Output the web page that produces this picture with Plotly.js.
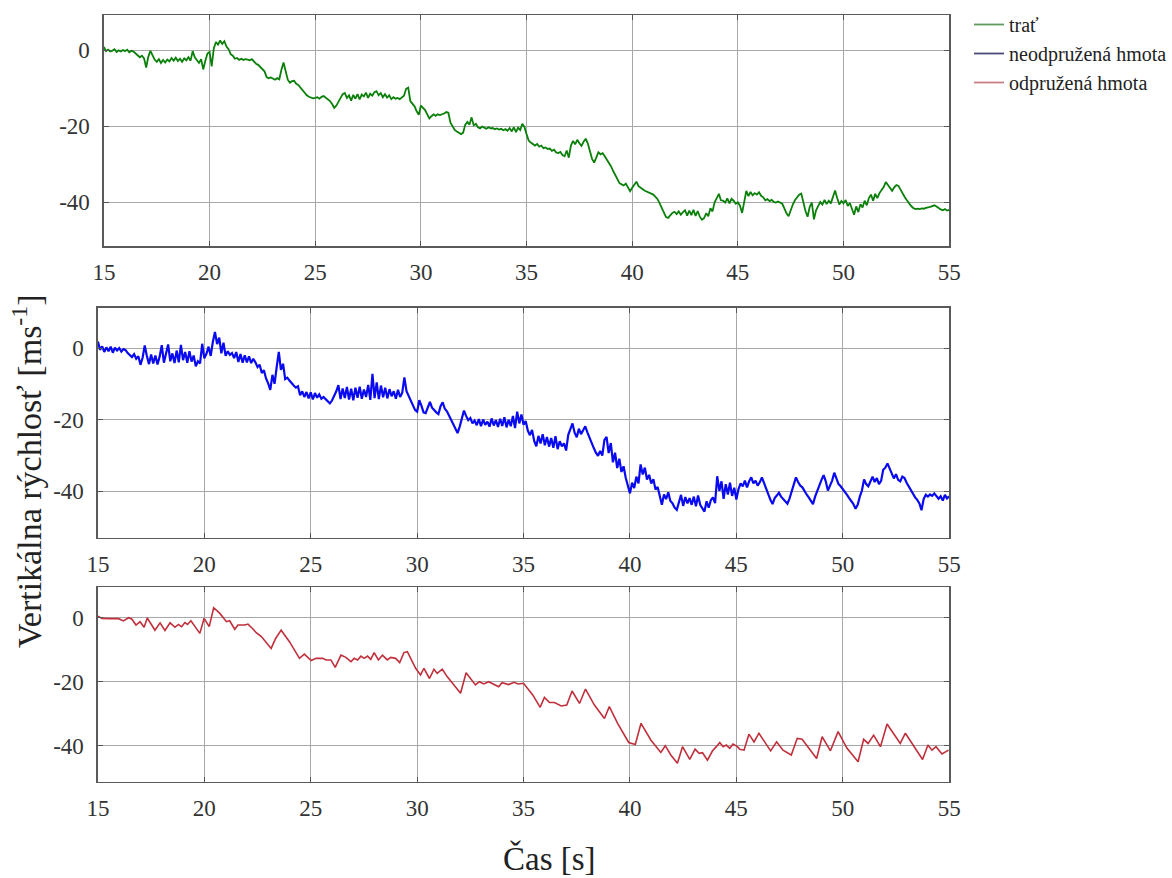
<!DOCTYPE html>
<html>
<head>
<meta charset="utf-8">
<script src="https://cdn.plot.ly/plotly-3.0.1.min.js"></script>
<style>html,body{margin:0;padding:0;background:#fff;}#chart{width:1172px;height:878px;}</style>
</head>
<body>
<div id="chart"></div>
<script>
// ---- data ----
const seriesNames = ["trať", "neodpružená hmota", "odpružená hmota"];
const xTickVals = [15, 20, 25, 30, 35, 40, 45, 50, 55];
const xTickText = ["15", "20", "25", "30", "35", "40", "45", "50", "55"];
const yTickVals = [0, -20, -40];
const yTickText = ["0", "-20", "-40"];
const tStart = 15;      // s, first sample of the dense traces
const tStep = 0.1;      // s, sample spacing of the dense traces

// trať (track) – vertical velocity, samples every 0.1 s from 15 s to 55 s
const trat = [
 0.8,-0.3,0.1,-0.4,-0.2,0.2,-0.5,-0.1,-0.4,0.0,
 -0.3,0.1,-0.6,-0.2,-0.4,-0.9,-1.6,-1.9,-1.5,-2.2,
 -4.6,-1.8,-0.2,-1.6,-2.5,-3.1,-2.4,-3.4,-2.6,-3.3,
 -2.5,-3.0,-2.1,-2.8,-2.0,-2.9,-2.3,-3.1,-2.2,-2.7,
 -1.9,-2.8,-0.3,-1.9,-2.6,-3.4,-2.4,-5.1,-2.8,-0.9,
 -0.5,-4.3,0.4,2.1,1.4,2.5,1.6,2.3,0.9,0.2,
 -1.1,-1.5,-2.3,-2.1,-2.6,-2.3,-2.6,-2.4,-2.5,-2.7,
 -2.4,-3.0,-3.6,-3.9,-4.4,-4.9,-5.6,-7.1,-7.4,-7.2,
 -7.6,-7.8,-7.4,-7.7,-5.2,-3.3,-5.5,-7.8,-8.6,-8.2,
 -8.1,-8.9,-9.2,-9.9,-10.8,-11.5,-11.9,-12.3,-12.5,-12.7,
 -12.6,-12.4,-12.8,-12.3,-12.1,-12.6,-13.0,-13.4,-14.2,-15.2,
 -14.6,-13.6,-12.9,-11.6,-11.3,-12.6,-11.9,-13.3,-11.8,-12.8,
 -11.6,-13.0,-11.7,-12.2,-11.2,-12.6,-11.5,-12.0,-11.1,-10.8,
 -11.9,-11.3,-12.4,-11.6,-12.5,-11.9,-12.9,-12.4,-12.8,-12.6,
 -12.9,-12.4,-12.0,-10.2,-9.9,-13.4,-14.0,-14.8,-16.1,-17.0,
 -14.6,-15.2,-15.8,-16.9,-18.0,-17.4,-16.9,-17.3,-16.9,-17.1,
 -17.0,-16.7,-16.3,-16.5,-19.1,-20.2,-21.0,-21.4,-21.8,-22.1,
 -21.7,-19.6,-18.9,-19.6,-17.7,-19.8,-19.4,-20.3,-20.6,-20.1,
 -20.4,-20.7,-20.3,-20.6,-20.5,-20.8,-20.6,-20.9,-20.7,-21.1,
 -20.8,-21.2,-20.5,-21.4,-20.3,-21.6,-20.4,-21.0,-19.4,-20.2,
 -22.1,-23.8,-24.3,-24.6,-25.1,-24.7,-25.4,-25.1,-25.8,-25.6,
 -26.0,-25.9,-26.5,-26.2,-26.9,-27.1,-26.8,-27.6,-27.9,-26.4,
 -28.3,-25.1,-23.9,-24.8,-23.6,-24.5,-25.2,-24.1,-23.3,-24.6,
 -26.5,-28.6,-29.6,-28.1,-26.9,-27.4,-27.1,-27.9,-28.8,-29.6,
 -30.6,-31.8,-33.0,-34.2,-35.0,-35.3,-35.6,-35.1,-36.2,-37.1,
 -36.2,-35.3,-34.6,-35.8,-36.3,-36.6,-37.0,-37.2,-37.5,-37.6,
 -38.0,-38.6,-39.2,-40.3,-41.5,-42.8,-43.9,-44.1,-43.3,-42.8,
 -42.5,-43.1,-42.4,-43.3,-42.6,-42.1,-43.5,-42.2,-43.4,-42.0,
 -43.6,-42.3,-43.8,-44.6,-44.2,-42.9,-43.7,-41.6,-42.4,-40.0,
 -38.9,-37.8,-39.5,-39.6,-40.1,-39.0,-40.3,-39.1,-39.6,-40.4,
 -40.0,-40.9,-42.8,-39.8,-37.0,-38.4,-37.3,-38.2,-37.6,-38.0,
 -37.4,-38.3,-38.7,-39.5,-39.2,-39.7,-39.4,-39.9,-40.1,-39.8,
 -40.2,-40.4,-41.6,-42.9,-43.7,-42.0,-40.6,-39.5,-38.6,-38.0,
 -37.7,-40.1,-42.3,-43.8,-41.2,-40.1,-44.5,-42.1,-41.0,-39.9,
 -40.6,-39.4,-40.5,-39.6,-40.3,-38.4,-36.9,-38.9,-40.6,-39.7,
 -40.3,-39.4,-41.0,-40.2,-42.1,-43.3,-41.1,-42.6,-40.5,-41.4,
 -39.6,-40.8,-38.9,-38.0,-39.6,-37.8,-38.9,-37.6,-36.8,-36.0,
 -34.7,-35.5,-36.3,-37.0,-36.1,-35.5,-35.7,-36.8,-37.9,-38.7,
 -39.5,-40.3,-41.0,-41.5,-41.8,-41.7,-41.8,-41.6,-41.7,-41.5,
 -41.4,-41.2,-41.0,-40.8,-41.1,-41.6,-41.9,-42.1,-41.8,-42.2,
 -42.0
];

// neodpružená hmota (unsprung mass) – samples every 0.1 s from 15 s to 55 s
const neodpruzena = [
 1.9,-0.4,0.6,-1.0,0.3,-0.8,0.5,-1.2,0.2,-0.6,
 0.1,-0.9,-0.2,-0.5,-1.3,-1.8,-2.4,-1.6,-2.9,-2.2,
 -4.6,-2.6,0.8,-2.1,-4.4,-1.7,-4.2,-2.0,-4.5,-2.3,
 0.9,-4.0,-1.5,1.1,-3.6,-1.4,-4.1,-0.6,-3.9,1.0,
 -3.3,-1.0,-4.0,-0.8,-3.7,-2.0,-5.0,-3.6,-4.2,1.3,
 -2.8,-1.5,0.5,-2.1,1.8,4.6,1.2,3.0,-1.4,1.6,
 -2.1,-0.8,-1.8,-1.3,-2.7,-1.0,-3.8,-1.6,-4.0,-1.9,
 -3.9,-2.2,-4.1,-2.9,-3.9,-5.2,-4.6,-6.9,-6.1,-8.4,
 -9.8,-11.6,-7.4,-9.9,-5.2,-1.0,-6.0,-4.3,-8.6,-8.2,
 -9.0,-9.8,-10.4,-11.0,-10.6,-13.1,-12.0,-13.6,-12.2,-14.0,
 -12.3,-14.3,-12.5,-13.8,-12.9,-14.1,-13.6,-14.2,-14.8,-15.4,
 -14.6,-13.4,-12.0,-10.3,-14.2,-11.2,-13.9,-10.8,-14.3,-11.3,
 -14.5,-11.0,-13.8,-10.7,-14.1,-11.5,-13.6,-10.2,-14.4,-7.1,
 -13.9,-9.5,-14.2,-10.4,-13.7,-11.0,-14.0,-11.4,-13.4,-12.0,
 -14.1,-11.6,-13.6,-12.4,-8.1,-12.0,-13.3,-14.9,-16.0,-17.2,
 -17.7,-14.5,-16.0,-17.9,-18.1,-16.3,-15.0,-16.6,-17.4,-17.9,
 -18.4,-16.2,-15.1,-16.9,-17.6,-18.8,-20.3,-21.5,-22.6,-23.7,
 -21.9,-19.6,-17.4,-18.9,-20.1,-19.5,-21.0,-20.2,-21.5,-19.8,
 -21.8,-19.9,-21.4,-20.5,-21.9,-19.6,-21.6,-20.1,-22.0,-19.7,
 -21.7,-19.3,-22.1,-20.0,-21.8,-18.9,-22.3,-17.7,-21.0,-18.5,
 -21.4,-20.3,-23.0,-24.3,-22.8,-25.9,-27.4,-24.5,-26.6,-24.0,
 -27.1,-24.8,-27.5,-25.1,-27.8,-24.6,-28.2,-26.0,-27.4,-26.6,
 -28.6,-24.2,-22.4,-21.0,-23.6,-24.9,-22.5,-24.0,-22.9,-21.8,
 -23.5,-25.1,-26.8,-27.9,-29.2,-30.1,-28.7,-30.0,-25.6,-24.8,
 -29.3,-26.5,-31.9,-29.2,-33.5,-30.9,-34.6,-33.0,-36.2,-38.4,
 -40.6,-37.6,-39.1,-35.9,-37.8,-32.5,-35.3,-33.4,-36.7,-35.4,
 -37.8,-36.6,-39.5,-38.8,-41.2,-43.8,-40.9,-42.2,-40.3,-42.7,
 -43.4,-44.6,-45.2,-43.1,-41.0,-44.1,-41.6,-43.4,-41.9,-43.8,
 -41.5,-44.2,-41.2,-43.8,-44.9,-45.7,-42.8,-44.6,-42.5,-41.7,
 -43.3,-35.8,-39.9,-37.2,-42.1,-38.0,-40.9,-37.6,-41.3,-39.0,
 -42.3,-39.4,-37.8,-38.6,-37.0,-38.9,-37.2,-36.1,-37.8,-37.0,
 -38.4,-37.5,-36.1,-37.8,-39.3,-41.0,-42.4,-43.6,-41.9,-41.2,
 -40.4,-41.5,-42.2,-42.7,-43.5,-42.0,-40.1,-38.2,-36.1,-37.4,
 -38.4,-38.9,-40.0,-40.9,-41.7,-42.6,-43.6,-41.5,-39.8,-38.2,
 -36.8,-35.5,-37.2,-39.8,-38.5,-37.0,-34.8,-36.2,-38.0,-38.6,
 -39.3,-40.2,-41.0,-41.9,-42.8,-43.6,-44.9,-43.8,-41.5,-39.8,
 -36.7,-38.0,-38.6,-37.2,-35.9,-37.4,-36.3,-38.0,-37.1,-34.0,
 -33.4,-32.2,-33.8,-35.0,-36.4,-35.2,-36.8,-37.2,-35.9,-36.3,
 -37.6,-38.7,-39.9,-40.8,-41.7,-42.4,-43.4,-45.3,-42.2,-41.0,
 -41.5,-40.9,-41.3,-40.6,-41.2,-42.1,-41.4,-42.6,-41.0,-42.0,
 -41.4
];

// odpružená hmota (sprung mass) – vertices
const odpruzenaT = [
 15.00,15.19,15.58,15.97,16.20,16.44,16.59,16.79,16.98,17.17,17.32,17.68,17.92,18.15,18.39,18.62,18.78,18.93,19.09,19.21,
 19.37,19.79,19.99,20.23,20.44,20.73,21.04,21.19,21.43,21.58,21.90,22.05,22.25,22.44,22.68,23.14,23.35,23.61,24.00,24.47,
 24.70,25.02,25.25,25.56,25.72,25.95,26.15,26.42,26.65,26.89,27.04,27.20,27.36,27.51,27.67,27.82,27.98,28.18,28.37,28.60,
 28.76,28.99,29.18,29.38,29.54,29.93,30.16,30.32,30.58,30.79,30.94,31.18,31.41,32.04,32.30,32.74,32.92,33.13,33.36,33.60,
 33.83,33.99,34.30,34.55,34.75,35.00,35.44,35.78,35.98,36.22,36.45,36.77,37.03,37.28,37.63,37.91,38.33,38.80,39.03,39.42,
 39.94,40.25,40.52,40.98,41.45,41.66,41.92,42.23,42.47,42.81,43.06,43.25,43.41,43.64,43.88,44.06,44.22,44.38,44.53,44.69,
 44.84,45.05,45.16,45.36,45.59,45.83,46.06,46.61,46.89,47.19,47.58,47.86,48.09,48.77,49.03,49.42,49.78,50.20,50.72,50.98,
 51.19,51.45,51.77,52.08,52.70,52.94,53.25,53.75,54.00,54.19,54.38,54.66,54.97
];
const odpruzena = [
 0.5,-0.2,-0.3,-0.3,-1.0,0.0,-0.4,-2.3,-1.25,-3.0,-0.1,-3.9,-1.6,-4.0,-1.6,-3.0,-2.1,-2.8,-1.5,-2.1,
 -0.95,-4.9,-0.2,-2.8,3.1,1.35,-1.25,-0.95,-3.6,-2.3,-2.3,-2.0,-3.3,-4.7,-5.9,-9.6,-6.5,-3.9,-7.5,-12.7,
 -11.4,-13.4,-12.7,-12.7,-13.2,-13.2,-15.5,-11.7,-12.4,-13.75,-12.7,-13.2,-12.0,-12.7,-12.0,-13.0,-10.9,-13.2,-11.7,-13.2,
 -12.4,-12.7,-14.0,-10.9,-10.6,-15.8,-17.9,-15.8,-19.0,-16.1,-17.4,-16.1,-18.4,-23.6,-17.2,-21.0,-20.0,-20.7,-20.0,-20.7,
 -21.6,-20.3,-20.9,-20.2,-20.7,-20.5,-24.2,-28.0,-24.9,-26.5,-26.5,-27.6,-27.3,-22.9,-26.8,-22.3,-27.3,-31.5,-27.8,-33.0,
 -39.0,-39.6,-33.0,-38.2,-42.1,-40.0,-42.9,-45.5,-40.3,-44.3,-41.1,-42.4,-42.2,-44.5,-41.6,-40.3,-39.0,-40.3,-39.8,-40.8,
 -39.5,-40.3,-41.1,-41.4,-36.4,-38.8,-36.1,-41.6,-38.8,-41.4,-42.9,-37.7,-38.0,-44.0,-37.2,-41.6,-35.6,-40.8,-45.0,-38.0,
 -39.3,-36.7,-40.3,-33.2,-39.3,-36.1,-39.3,-44.3,-39.8,-41.4,-40.3,-42.6,-41.4
];

// ---- styling ----
const SERIF = "'Liberation Serif', 'Times New Roman', serif";
const W = 1172, H = 878;
const colGreen = "#0a800a", colBlue = "#0a0af0", colRed = "#c0303c";
const legGreen = "#5f9a5f", legBlue = "#4a4a78", legRed = "#c57f86";

function px2fx(p){ return p / W; }
function px2fy(p){ return 1 - p / H; }

const traces = [
  {type:"scatter", mode:"lines", x0:tStart, dx:tStep, y:trat, xaxis:"x", yaxis:"y",
   line:{color:colGreen, width:1.8}, showlegend:false, hoverinfo:"skip"},
  {type:"scatter", mode:"lines", x0:tStart, dx:tStep, y:neodpruzena, xaxis:"x2", yaxis:"y2",
   line:{color:colBlue, width:2.2}, showlegend:false, hoverinfo:"skip"},
  {type:"scatter", mode:"lines", x:odpruzenaT, y:odpruzena, xaxis:"x3", yaxis:"y3",
   line:{color:colRed, width:1.6}, showlegend:false, hoverinfo:"skip"},
  // legend entries
  {type:"scatter", mode:"lines", x:[null], y:[null], name:seriesNames[0], legendgroup:"a",
   line:{color:legGreen, width:1.8}, xaxis:"x", yaxis:"y"},
  {type:"scatter", mode:"lines", x:[null], y:[null], name:seriesNames[1], legendgroup:"b",
   line:{color:legBlue, width:1.8}, xaxis:"x", yaxis:"y"},
  {type:"scatter", mode:"lines", x:[null], y:[null], name:seriesNames[2], legendgroup:"c",
   line:{color:legRed, width:1.8}, xaxis:"x", yaxis:"y"}
];

const tickFont = {family:SERIF, size:23, color:"#333"};

function xa(left, anchor){
  return {domain:[px2fx(left), px2fx(950)], range:[15,55], anchor:anchor,
    tickmode:"array", tickvals:xTickVals, ticktext:xTickText, ticks:"inside", ticklen:5, tickcolor:"#555",
    showline:true, mirror:"ticks", linecolor:"#5a5a5a", linewidth:1.5,
    showgrid:true, gridcolor:"#a8a8a8", gridwidth:1, zeroline:false,
    tickfont:tickFont, ticklabelstandoff:5};
}
function ya(top, bottom, range, anchor){
  return {domain:[px2fy(bottom), px2fy(top)], range:range, anchor:anchor,
    tickmode:"array", tickvals:yTickVals, ticktext:yTickText, ticks:"inside", ticklen:5, tickcolor:"#555",
    showline:true, mirror:"ticks", linecolor:"#5a5a5a", linewidth:1.5,
    showgrid:true, gridcolor:"#a8a8a8", gridwidth:1, zeroline:false,
    tickfont:tickFont, ticklabelstandoff:8};
}

const layout = {
  width:W, height:H, margin:{l:0,r:0,t:0,b:0},
  paper_bgcolor:"#fff", plot_bgcolor:"#fff",
  font:{family:SERIF, size:22, color:"#333"},
  xaxis: xa(104, "y"),
  yaxis: ya(15, 246, [-51.5, 9.2], "x"),
  xaxis2: xa(98, "y2"),
  yaxis2: ya(307.7, 537.7, [-53, 11.4], "x2"),
  xaxis3: xa(98, "y3"),
  yaxis3: ya(587.3, 781.7, [-51.25, 9.5], "x3"),
  showlegend:true,
  legend:{x:px2fx(970), y:px2fy(5), xanchor:"left", yanchor:"top",
    font:{family:SERIF, size:20, color:"#222"}, bgcolor:"rgba(0,0,0,0)",
    traceorder:"grouped", tracegroupgap:0, itemwidth:30},
  annotations:[
    {text:"Vertikálna rýchlosť [ms<sup>-1</sup>]", xref:"paper", yref:"paper",
     x:px2fx(27), y:px2fy(471), xanchor:"center", yanchor:"middle", textangle:-90, showarrow:false,
     font:{family:SERIF, size:34, color:"#222"}},
    {text:"Čas [s]", xref:"paper", yref:"paper",
     x:px2fx(550), y:px2fy(858), xanchor:"center", yanchor:"middle", showarrow:false,
     font:{family:SERIF, size:33, color:"#222"}}
  ]
};

Plotly.newPlot("chart", traces, layout, {displayModeBar:false, staticPlot:true});
</script>
</body>
</html>
